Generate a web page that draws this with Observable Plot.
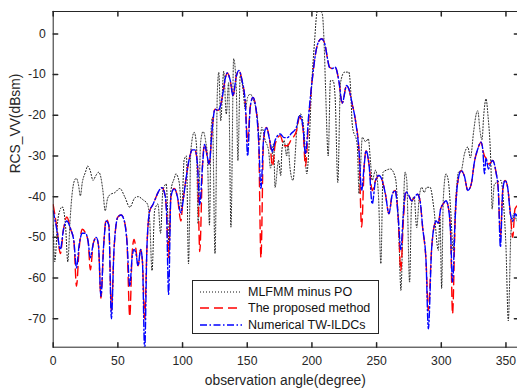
<!DOCTYPE html>
<html>
<head>
<meta charset="utf-8">
<script src="https://cdn.jsdelivr.net/npm/d3@7"></script>
<script src="https://cdn.jsdelivr.net/npm/@observablehq/plot@0.6"></script>
<style>
  html, body { margin: 0; padding: 0; background: #fff; overflow: hidden; }
  #wrap { position: relative; width: 517px; height: 388px; overflow: hidden; font-family: "Liberation Sans", Arial, sans-serif; }
  #legend { position: absolute; left: 192px; top: 280px; width: 187px; height: 54px; box-sizing: border-box;
            border: 1px solid #262626; background: #fff; font-size: 12.5px; color: #111; }
  .row { position: absolute; left: 0; height: 16px; width: 100%; }
  .row svg { position: absolute; left: 7px; top: 6px; }
  .row span { position: absolute; left: 55px; top: 0px; line-height: 16px; white-space: nowrap; }
</style>
</head>
<body>
<div id="wrap"></div>
<script>
// ---- data ----
const xTicks = [0, 50, 100, 150, 200, 250, 300, 350];
const yTicks = [-70, -60, -50, -40, -30, -20, -10, 0];
const seriesNames = ["MLFMM minus PO", "The proposed method", "Numerical TW-ILDCs"];

// [angle (deg), RCS (dBsm)]
const mlfmm = [[0,-47],[1.2,-56],[3.5,-46],[5,-43.5],[7,-42.5],[9.5,-47],[11.3,-56],[13,-46],[14.6,-39.4],[16.5,-36],[17.9,-35.5],[19.5,-37],[21,-39.8],[22.5,-36.5],[24.9,-34],[26.7,-32.5],[28.5,-33.5],[30.8,-36],[33,-34.8],[35.1,-34],[37,-35.5],[38.4,-38.5],[40.2,-43.5],[42,-40.5],[44,-39.5],[47.7,-39],[51.5,-38],[55.4,-40.1],[59.2,-42.6],[63.1,-40.3],[65.6,-40],[69.5,-40.8],[72.8,-41.8],[74.6,-45.9],[76.4,-58.2],[78.4,-43.4],[81,-41.8],[83,-49],[84.8,-38.5],[87.4,-36.9],[88.7,-46],[89.5,-53],[91,-38.5],[93.6,-35.5],[94.8,-34.4],[97.4,-36.5],[99.4,-43],[101.2,-31],[103,-30],[104.6,-56.5],[106.4,-28.7],[109,-24.2],[110.8,-27.5],[112,-46.7],[114,-26.5],[115.9,-24],[117.9,-26.5],[119.2,-30],[120.8,-47],[122,-24],[123.1,-20.5],[125.1,-54],[126.9,-14.2],[128,-9.5],[129.5,-21.3],[131.8,-9.2],[133.8,-19.7],[135.6,-12],[137.4,-47.5],[139.5,-6.1],[141.5,-13],[142.8,-31.1],[144.6,-10.2],[146.7,-13.5],[148.5,-18.5],[150.3,-15.6],[152.3,-14.8],[154.9,-16.4],[157.5,-19.7],[159.6,-26.2],[161.3,-23],[163.9,-26.2],[166.5,-28.7],[168,-33],[170.4,-27],[171.5,-37.7],[174.2,-31.1],[175.9,-34.8],[176.8,-28.5],[178.5,-26.2],[180.5,-30],[181.5,-27],[183,-32.8],[185.3,-36],[188.7,-22.5],[191.3,-19.7],[193.9,-24],[196,-34.4],[197.7,-28],[199.6,-14],[202,-2],[204.1,5.5],[206,5.8],[208,4.9],[209.5,-3],[210.6,-14],[212.6,-30],[214.3,-11.5],[216.4,-11.5],[218,-16],[220,-36.5],[222.1,-12],[225.2,-9.4],[228.5,-9.4],[230,-14],[231.1,-22],[232.6,-24.6],[233.9,-25.4],[235.2,-28],[236.4,-39.3],[239,-25.4],[241.5,-26.5],[243.6,-25.8],[245.4,-32],[246.6,-36],[249.2,-33.5],[251.5,-40],[253.3,-56.5],[255,-34],[257.5,-33.5],[260.8,-33.2],[264.6,-35.5],[267.2,-49.2],[268.8,-63],[270.5,-45],[272,-34],[273.3,-36],[275.5,-61],[277,-42],[279,-40],[281,-47.6],[283,-40],[284.9,-37.7],[286.8,-39],[288.7,-37.7],[291.3,-37.7],[294.3,-43],[297.7,-53.2],[299,-45],[300.3,-62.5],[301.5,-41],[303.6,-34.4],[305.4,-36],[307.2,-43],[309.2,-53.2],[311.3,-40],[313.3,-34],[315.5,-33.5],[317.9,-29.5],[320.5,-27.8],[322.5,-30.5],[325,-24],[327,-19.7],[328.2,-18.9],[330,-24],[331.5,-26],[332.8,-20],[334.6,-16],[336,-19.7],[338.5,-33.6],[339.3,-43],[341,-37],[343.1,-36.5],[346.2,-36],[348.3,-42.5],[350,-52.3],[351.8,-70.5],[353.9,-48.5],[356.4,-44],[358.5,-46],[360,-44]];

const proposed = [[0,-42],[3,-48],[5.5,-54],[8,-48],[10.5,-45],[13.5,-48],[16,-51],[18,-62],[20,-53],[22.5,-48],[25,-49],[27,-51],[28.7,-58],[31,-51.5],[33.3,-50],[35,-52],[36.9,-65],[39,-52],[41,-45.5],[43,-47],[45,-68],[47,-53],[50,-45],[52.5,-44.5],[55,-46],[57,-51],[59.2,-69.5],[61,-54],[62.5,-50.5],[64,-53],[65.6,-57],[67.6,-53],[69,-56],[70.7,-70],[72.5,-52],[74.6,-43.5],[77,-42],[79,-40.5],[81,-39],[84,-37.8],[86,-39],[87.5,-43],[89.2,-55],[91,-40],[93.6,-38],[96,-40],[98.7,-46],[100,-42],[102.5,-36],[105,-31],[107.5,-28.5],[109.5,-28.5],[111.5,-32],[113.3,-53.5],[115.4,-32.5],[117,-27.2],[119,-30],[120.5,-32],[123,-23],[125,-18.5],[127.5,-18.8],[129,-18],[131,-15],[133,-11],[134.5,-9.6],[136.9,-11.5],[139,-15.2],[141.5,-10.5],[143.5,-9],[146,-11.5],[148.5,-17],[150.3,-26.5],[152.3,-18],[154.4,-15.6],[157,-19],[158.8,-26],[160.6,-55],[162.6,-26],[164.7,-23],[167.3,-26],[169.5,-32.5],[171.7,-27],[175.5,-25],[178.5,-27.5],[181,-27.5],[184,-26],[187.9,-24],[190.5,-20.5],[193,-23],[195,-32.5],[197.5,-21],[200.5,-10.5],[203,-4.5],[205,-2],[207.5,-1.2],[210,-2.5],[212,-6],[213.6,-8.2],[215.7,-8.5],[218,-8.2],[220.8,-11.5],[223.4,-17],[226.8,-12.7],[228.5,-13.5],[231,-17],[234,-22],[236.4,-28.7],[238.4,-47.5],[240.5,-32],[241.8,-28.7],[244.1,-32],[246.6,-38.5],[249.2,-36],[251.8,-34.8],[254.3,-36],[256.9,-39.5],[259.5,-44.2],[262.1,-39.5],[264.3,-38.5],[266.7,-45],[268.7,-58.2],[270.5,-47],[272.5,-39],[274.6,-39.5],[277.1,-41],[279.7,-40],[281.5,-39.4],[283.6,-41],[285.6,-47.6],[288.2,-55.7],[290,-68],[292.5,-53],[294.3,-47.6],[296,-46],[297.7,-46.5],[299.5,-43],[301.5,-41.8],[303.6,-41],[305.4,-42.5],[307.2,-49],[308.7,-68.8],[310.8,-45],[312.5,-37],[315.3,-33.6],[317.9,-35],[320.5,-38.5],[323.1,-37],[325.6,-31.5],[328.2,-28.3],[330.8,-26.6],[332.1,-28.5],[333.4,-30],[334.6,-30.5],[336.4,-32],[338.5,-31.5],[339.7,-31.1],[342.3,-34],[344.1,-38.5],[345.7,-50],[347.5,-38.5],[349.3,-36],[351.3,-37.7],[353.4,-44.2],[355.2,-50],[357,-43],[360,-42]];

const numerical = [[0,-43.5],[3,-48.5],[5.5,-53],[8,-48],[10.5,-46],[13.5,-48],[16,-51],[18,-57.5],[20,-52],[22.5,-49],[25,-49],[27,-51],[28.7,-55],[31,-51.5],[33.3,-50],[35,-52],[36.9,-64.5],[39,-52],[41,-46],[43,-47],[45,-70],[47,-53],[50,-45],[52.5,-44.5],[55,-46],[57,-51],[59.2,-62],[61,-55],[62.5,-53],[64,-54],[65.6,-57],[67.6,-53],[69,-56],[70.7,-78],[72.5,-52],[74.6,-43.5],[77,-42],[79,-40.5],[81,-39],[84,-37.8],[86,-39],[87.5,-43],[89.2,-64],[91,-40],[93.6,-38],[96,-40],[98.7,-44],[100,-42],[102.5,-36],[105,-31],[107.5,-28.5],[109.5,-28.5],[111.5,-32],[113.3,-42],[115.4,-32.5],[117,-27.2],[119,-30],[120.5,-32],[123,-23],[125,-18.5],[127.5,-18.8],[129,-18],[131,-15],[133,-11],[134.5,-9.6],[136.9,-11.5],[139,-15.2],[141.5,-10.5],[143.5,-9],[146,-11.5],[148.5,-17],[150.3,-30],[152.3,-18],[154.4,-15.6],[157,-19],[158.8,-26],[160.6,-38],[162.6,-26],[164.7,-23],[167.3,-26],[169.5,-29],[171.7,-26],[175.5,-24.6],[178.5,-25.5],[181,-25.5],[184,-24.5],[187.9,-23],[190.5,-20],[193,-22.5],[195,-29.5],[197.5,-20],[200.5,-10.5],[203,-4.5],[205,-2],[207.5,-1.2],[210,-2.5],[212,-6],[213.6,-8.2],[215.7,-8.5],[218,-8.2],[220.8,-11.5],[223.4,-17],[226.8,-12.7],[228.5,-13.5],[231,-17],[234,-22],[236.4,-28.7],[238.4,-38.5],[240.5,-32],[241.8,-28.7],[244.1,-32],[246.6,-41.8],[249.2,-36],[251.8,-34.8],[254.3,-36],[256.9,-39.5],[259.5,-44.2],[262.1,-39.5],[264.3,-38.5],[266.7,-45],[268.7,-53],[270.5,-45],[272.5,-38.8],[274.6,-39.5],[277.1,-41],[279.7,-40],[281.5,-39.4],[283.6,-41],[285.6,-47.6],[288.2,-55.7],[290,-72.5],[292.5,-53],[294.3,-47.6],[296,-46],[297.7,-46.5],[299.5,-43],[301.5,-41.8],[303.6,-41],[305.4,-42.5],[307.2,-49],[308.7,-61],[310.8,-45],[312.5,-37],[315.3,-33.6],[317.9,-35],[320.5,-38.5],[323.1,-37],[325.6,-31.5],[328.2,-28.3],[330.8,-26.6],[332.1,-28.5],[333.4,-34.4],[334.6,-30.5],[336.4,-33.2],[338.5,-31.5],[339.7,-31.1],[342.3,-34],[344.1,-38.5],[345.7,-52.4],[347.5,-38.5],[349.3,-36],[351.3,-37.7],[353.4,-44.2],[355.2,-46],[357,-44.2],[360,-46]];

// ---- chart ----
const xDomain = [0, 360], yDomain = [-77, 5.5];
const axisColor = "#262626";
const font = '"Liberation Sans", Arial, sans-serif';
const tickShape = {draw(context, l) { context.moveTo(0, 0); context.lineTo(0, -l); }};
const tickLen = 4.5;

const chart = Plot.plot({
  width: 517, height: 388,
  marginLeft: 52.7, marginRight: 0, marginTop: 11, marginBottom: 41.3,
  style: {fontFamily: font, fontSize: "12.2px", color: axisColor, background: "#fff"},
  x: {domain: xDomain, range: [52.7, 518.4]},
  y: {domain: yDomain, range: [346.7, 11]},
  marks: [
    Plot.line(mlfmm, {x: "0", y: "1", stroke: "#111", strokeWidth: 1, strokeDasharray: "1,2", curve: "monotone-x", clip: true}),
    Plot.line(proposed, {x: "0", y: "1", stroke: "#ff0000", strokeWidth: 1.4, strokeDasharray: "9,5", curve: "monotone-x", clip: true}),
    Plot.line(numerical, {x: "0", y: "1", stroke: "#0000ff", strokeWidth: 1.4, strokeDasharray: "7,2.5,1.5,2.5", curve: "monotone-x", clip: true}),
    // box (right edge falls just outside the window, as in the reference)
    Plot.ruleY(yDomain, {stroke: axisColor, strokeWidth: 1}),
    Plot.ruleX(xDomain, {stroke: axisColor, strokeWidth: 1}),
    // inward ticks on all four sides
    Plot.vector(xTicks, {x: d => d, y: yDomain[0], rotate: 0, length: tickLen, anchor: "start", shape: tickShape, stroke: axisColor}),
    Plot.vector(xTicks, {x: d => d, y: yDomain[1], rotate: 180, length: tickLen, anchor: "start", shape: tickShape, stroke: axisColor}),
    Plot.vector(yTicks, {y: d => d, x: xDomain[0], rotate: 90, length: tickLen, anchor: "start", shape: tickShape, stroke: axisColor}),
    Plot.vector(yTicks, {y: d => d, x: xDomain[1], rotate: -90, length: tickLen, anchor: "start", shape: tickShape, stroke: axisColor}),
    // tick labels
    Plot.axisX(xTicks, {anchor: "bottom", tickSize: 0, tickPadding: 9, label: null, tickFormat: d => String(d), fill: axisColor}),
    Plot.axisY(yTicks, {anchor: "left", tickSize: 0, tickPadding: 7.5, label: null, tickFormat: d => String(d), fill: axisColor}),
    // axis titles
    Plot.text(["observation angle(degree)"], {frameAnchor: "bottom", dy: 33.5, fontSize: 13.8, fill: axisColor, lineAnchor: "middle"}),
    Plot.text(["RCS_VV(dBsm)"], {frameAnchor: "left", dx: -37.5, dy: -6, rotate: -90, fontSize: 13.8, fill: axisColor, lineAnchor: "middle"})
  ]
});

const wrap = document.getElementById("wrap");
wrap.appendChild(chart);

// legend
const legend = document.createElement("div");
legend.id = "legend";
const styles = [
  {stroke: "#111", width: 1, dash: "1,2"},
  {stroke: "#ff0000", width: 1.4, dash: "9,5"},
  {stroke: "#0000ff", width: 1.4, dash: "7,2.5,1.5,2.5"}
];
seriesNames.forEach((name, i) => {
  const row = document.createElement("div");
  row.className = "row";
  row.style.top = (2.5 + i * 16.5) + "px";
  const s = styles[i];
  row.innerHTML = `<svg width="42" height="4"><line x1="0" y1="2" x2="42" y2="2" stroke="${s.stroke}" stroke-width="${s.width}" stroke-dasharray="${s.dash}"/></svg><span>${name}</span>`;
  legend.appendChild(row);
});
wrap.appendChild(legend);
</script>
</body>
</html>
